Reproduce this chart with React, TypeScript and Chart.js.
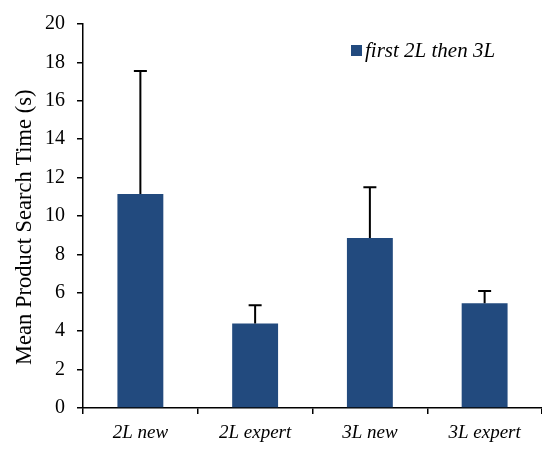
import React, { useEffect, useRef } from "react";
import { Chart, registerables } from "chart.js";

Chart.register(...registerables);

const categories = ["2L new", "2L expert", "3L new", "3L expert"];
const seriesLabel = "first 2L then 3L";
const means = [11.15, 4.4, 8.85, 5.45];
const errors = [6.4, 0.95, 2.65, 0.65];
const yTicks = [0, 2, 4, 6, 8, 10, 12, 14, 16, 18, 20];
const yTitle = "Mean Product Search Time (s)";

const BAR_COLOR = "#224A7E";
const FONT = "'Liberation Serif', 'Times New Roman', serif";

const errorBarPlugin = {
  id: "errorBars",
  afterDatasetsDraw(chart: any) {
    const meta = chart.getDatasetMeta(0);
    const yScale = chart.scales.y;
    const ctx = chart.ctx;
    ctx.save();
    ctx.strokeStyle = "#000";
    ctx.lineWidth = 2;
    meta.data.forEach((bar: any, i: number) => {
      const x = bar.x;
      const yBase = yScale.getPixelForValue(means[i]);
      const yTop = yScale.getPixelForValue(means[i] + errors[i]);
      ctx.beginPath();
      ctx.moveTo(x, yBase);
      ctx.lineTo(x, yTop);
      ctx.moveTo(x - 6.5, yTop);
      ctx.lineTo(x + 6.5, yTop);
      ctx.stroke();
    });
    ctx.restore();
  },
};

const legendPlugin = {
  id: "customLegend",
  afterDraw(chart: any) {
    const ctx = chart.ctx;
    const ds = chart.data.datasets[0];
    ctx.save();
    ctx.fillStyle = ds.backgroundColor;
    ctx.fillRect(351, 45, 11, 11);
    ctx.fillStyle = "#000";
    ctx.font = `italic 21px ${FONT}`;
    ctx.textBaseline = "middle";
    ctx.textAlign = "left";
    ctx.fillText(ds.label, 365, 51);
    ctx.restore();
  },
};

export default function App() {
  const ref = useRef<HTMLCanvasElement | null>(null);
  useEffect(() => {
    if (!ref.current) return;
    const chart = new Chart(ref.current, {
      type: "bar",
      data: {
        labels: categories,
        datasets: [
          {
            label: seriesLabel,
            data: means,
            backgroundColor: BAR_COLOR,
            borderWidth: 0,
            barPercentage: 0.4,
            categoryPercentage: 1,
          },
        ],
      },
      options: {
        animation: false,
        responsive: true,
        maintainAspectRatio: false,
        layout: { padding: { top: 20, left: 0, right: 0, bottom: 0 } },
        plugins: {
          legend: { display: false },
          tooltip: { enabled: false },
        },
        scales: {
          x: {
            grid: {
              display: true,
              drawOnChartArea: false,
              drawTicks: true,
              tickLength: 6,
              offset: true,
              color: "#000",
              lineWidth: 1.5,
            },
            border: { display: true, color: "#000", width: 1.5 },
            ticks: {
              color: "#000",
              font: { family: FONT, size: 19, style: "italic" },
              padding: 8,
              maxRotation: 0,
            },
            afterFit(scale: any) {
              scale.height = 41;
            },
          },
          y: {
            min: 0,
            max: 20,
            afterBuildTicks(scale: any) {
              scale.ticks = yTicks.map((v) => ({ value: v }));
            },
            grid: {
              display: true,
              drawOnChartArea: false,
              drawTicks: true,
              tickLength: 6,
              color: "#000",
              lineWidth: 1.5,
            },
            border: { display: true, color: "#000", width: 1.5 },
            ticks: {
              color: "#000",
              font: { family: FONT, size: 20 },
              padding: 12,
            },
            title: {
              display: true,
              text: yTitle + "    ",
              color: "#000",
              font: { family: FONT, size: 22.5 },
              padding: { top: 12, bottom: 0 },
            },
            afterFit(scale: any) {
              scale.width = 83;
            },
          },
        },
      },
      plugins: [errorBarPlugin, legendPlugin],
    });
    return () => chart.destroy();
  }, []);
  return (
    <div style={{ position: "absolute", left: 0, top: 0, width: 542, height: 449 }}>
      <canvas ref={ref} />
    </div>
  );
}
